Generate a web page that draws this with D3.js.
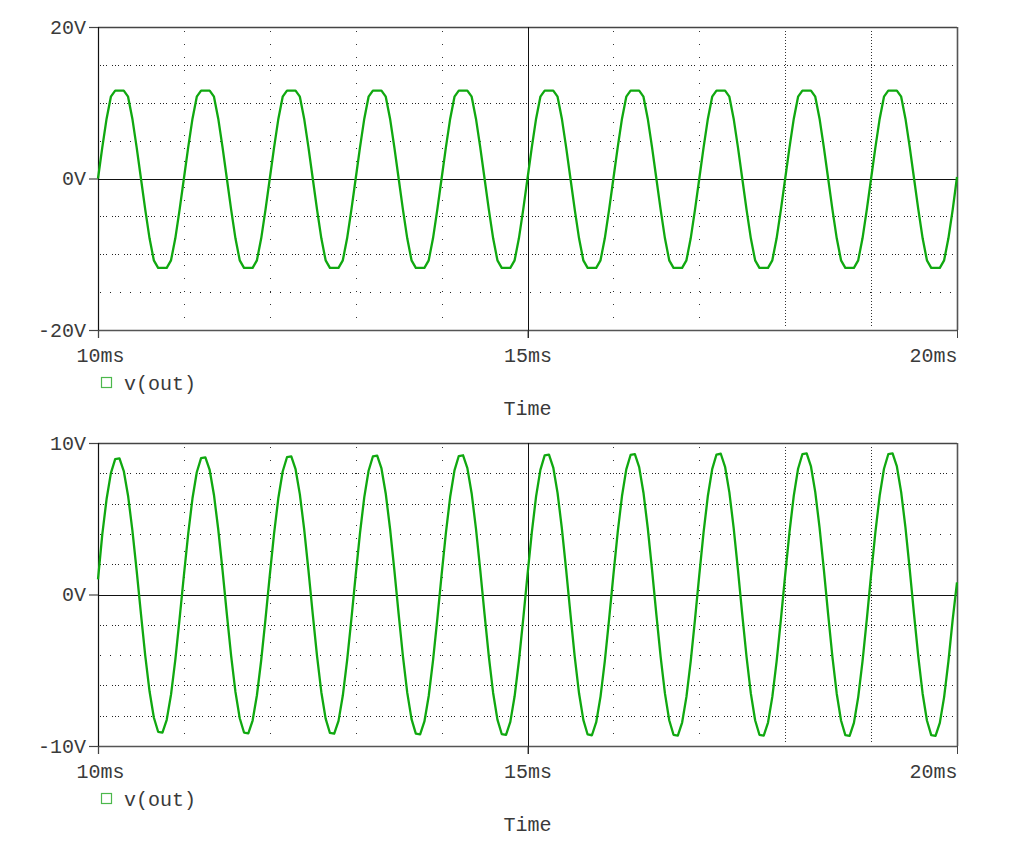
<!DOCTYPE html>
<html>
<head>
<meta charset="utf-8">
<script src="https://cdn.jsdelivr.net/npm/d3@7"></script>
<style>
  html, body { margin: 0; padding: 0; background: #fff; }
  svg { display: block; }
  text { font-family: "Liberation Mono", "Courier New", monospace; fill: #3a3a3a; }
</style>
</head>
<body>
<svg id="chart" width="1036" height="845"></svg>
<script>
// ---------------- DATA ----------------
const timeStart = 10;      // ms
const timeEnd = 20;        // ms
const timeStep = 0.05;     // ms between samples
const xTickValues = [10, 15, 20];
const xTickLabels = ["10ms", "15ms", "20ms"];
const xGridValues = [11, 12, 13, 14, 16, 17, 18, 19];
const seriesName = "v(out)";
const axisTitle = "Time";

// Panel 1 (clipped sine), volts
const topYTicks = [-20, 0, 20];
const topYTickLabels = ["-20V", "0V", "20V"];
const topYGrid = [15, 10, 5, -5, -10, -15];
const topValues = [
  0, 4.1, 7.9, 10.8, 11.6, 11.6, 11.6, 10.8, 7.9, 4.1, 0, -4.1, -7.9, -10.8, -11.8, -11.8, -11.8, -10.8, -7.9, -4.1,
  0, 4.1, 7.9, 10.8, 11.6, 11.6, 11.6, 10.8, 7.9, 4.1, 0, -4.1, -7.9, -10.8, -11.8, -11.8, -11.8, -10.8, -7.9, -4.1,
  0, 4.1, 7.9, 10.8, 11.6, 11.6, 11.6, 10.8, 7.9, 4.1, 0, -4.1, -7.9, -10.8, -11.8, -11.8, -11.8, -10.8, -7.9, -4.1,
  0, 4.1, 7.9, 10.8, 11.6, 11.6, 11.6, 10.8, 7.9, 4.1, 0, -4.1, -7.9, -10.8, -11.8, -11.8, -11.8, -10.8, -7.9, -4.1,
  0, 4.1, 7.9, 10.8, 11.6, 11.6, 11.6, 10.8, 7.9, 4.1, 0, -4.1, -7.9, -10.8, -11.8, -11.8, -11.8, -10.8, -7.9, -4.1,
  0, 4.1, 7.9, 10.8, 11.6, 11.6, 11.6, 10.8, 7.9, 4.1, 0, -4.1, -7.9, -10.8, -11.8, -11.8, -11.8, -10.8, -7.9, -4.1,
  0, 4.1, 7.9, 10.8, 11.6, 11.6, 11.6, 10.8, 7.9, 4.1, 0, -4.1, -7.9, -10.8, -11.8, -11.8, -11.8, -10.8, -7.9, -4.1,
  0, 4.1, 7.9, 10.8, 11.6, 11.6, 11.6, 10.8, 7.9, 4.1, 0, -4.1, -7.9, -10.8, -11.8, -11.8, -11.8, -10.8, -7.9, -4.1,
  0, 4.1, 7.9, 10.8, 11.6, 11.6, 11.6, 10.8, 7.9, 4.1, 0, -4.1, -7.9, -10.8, -11.8, -11.8, -11.8, -10.8, -7.9, -4.1,
  0, 4.1, 7.9, 10.8, 11.6, 11.6, 11.6, 10.8, 7.9, 4.1, 0, -4.1, -7.9, -10.8, -11.8, -11.8, -11.8, -10.8, -7.9, -4.1,
  0.2
];

// Panel 2 (sine), volts
const bottomYTicks = [-10, 0, 10];
const bottomYTickLabels = ["-10V", "0V", "10V"];
const bottomYGrid = [8, 6, 4, 2, -2, -4, -6, -8];
const bottomValues = [
  1.0, 3.97, 6.30, 8.01, 8.93, 8.98, 8.15, 6.52, 4.25, 1.58, -1.28, -4.03, -6.39, -8.12, -9.06, -9.11, -8.27, -6.61, -4.31, -1.60,
  1.27, 4.00, 6.35, 8.07, 9.00, 9.05, 8.22, 6.57, 4.29, 1.59, -1.29, -4.05, -6.43, -8.17, -9.11, -9.16, -8.32, -6.65, -4.34, -1.61,
  1.28, 4.03, 6.39, 8.12, 9.06, 9.11, 8.27, 6.61, 4.31, 1.60, -1.29, -4.06, -6.45, -8.19, -9.14, -9.19, -8.34, -6.67, -4.35, -1.61,
  1.29, 4.05, 6.43, 8.17, 9.11, 9.16, 8.32, 6.65, 4.34, 1.61, -1.30, -4.08, -6.48, -8.23, -9.18, -9.23, -8.38, -6.70, -4.37, -1.62,
  1.29, 4.06, 6.45, 8.19, 9.14, 9.19, 8.34, 6.67, 4.35, 1.61, -1.30, -4.10, -6.50, -8.26, -9.21, -9.26, -8.41, -6.72, -4.39, -1.63,
  1.30, 4.08, 6.48, 8.23, 9.18, 9.23, 8.38, 6.70, 4.37, 1.62, -1.30, -4.11, -6.52, -8.28, -9.24, -9.29, -8.43, -6.74, -4.40, -1.63,
  1.30, 4.10, 6.50, 8.26, 9.21, 9.26, 8.41, 6.72, 4.39, 1.63, -1.31, -4.12, -6.53, -8.30, -9.26, -9.31, -8.45, -6.76, -4.41, -1.64,
  1.30, 4.11, 6.52, 8.28, 9.24, 9.29, 8.43, 6.74, 4.40, 1.63, -1.31, -4.12, -6.53, -8.30, -9.26, -9.31, -8.45, -6.76, -4.41, -1.64,
  1.31, 4.12, 6.53, 8.30, 9.26, 9.31, 8.45, 6.76, 4.41, 1.64, -1.31, -4.13, -6.55, -8.32, -9.28, -9.33, -8.47, -6.77, -4.42, -1.64,
  1.31, 4.12, 6.53, 8.30, 9.26, 9.31, 8.45, 6.76, 4.41, 1.64, -1.31, -4.13, -6.55, -8.32, -9.28, -9.33, -8.47, -6.77, -4.42, -1.64,
  0.8
];

// ---------------- DRAW ----------------
const svg = d3.select("#chart");
const traceColor = "#10a810";
const left = 98, right = 957;

const x = d3.scaleLinear().domain([timeStart, timeEnd]).range([left, right]);

function drawPanel(cfg) {
  const { top, bottom, yDomain, yTicks, yTickLabels, yGrid, values } = cfg;
  const y = d3.scaleLinear().domain(yDomain).range([bottom, top]);
  const g = svg.append("g");

  // Horizontal dotted grid
  g.selectAll("line.hgrid").data(yGrid).join("line")
    .attr("x1", left + 2).attr("x2", right - 4)
    .attr("y1", d => Math.round(y(d)) + 0.5).attr("y2", d => Math.round(y(d)) + 0.5)
    .attr("stroke", "#222").attr("stroke-width", 1)
    .attr("stroke-dasharray", (d, i) => (i % 3 === 2 ? "1,9" : "1,2,1,2,1,5"));

  // Vertical dotted grid
  g.selectAll("line.vgrid").data(xGridValues).join("line")
    .attr("x1", d => Math.round(x(d)) + 0.5).attr("x2", d => Math.round(x(d)) + 0.5)
    .attr("y1", top + 4).attr("y2", bottom - 2)
    .attr("stroke", "#333").attr("stroke-width", 1)
    .attr("stroke-dasharray", d => (d >= 18 ? "1,2" : "1,12"));

  // Frame
  g.append("line").attr("x1", left).attr("x2", right).attr("y1", top + 0.5).attr("y2", top + 0.5)
    .attr("stroke", "#444").attr("stroke-width", 1.3);
  g.append("line").attr("x1", right + 0.5).attr("x2", right + 0.5).attr("y1", top).attr("y2", bottom)
    .attr("stroke", "#555").attr("stroke-width", 1.6);
  g.append("line").attr("x1", left).attr("x2", right + 1).attr("y1", bottom + 0.5).attr("y2", bottom + 0.5)
    .attr("stroke", "#555").attr("stroke-width", 1.6);
  // zero line
  g.append("line").attr("x1", left).attr("x2", right).attr("y1", Math.round(y(0)) + 0.5).attr("y2", Math.round(y(0)) + 0.5)
    .attr("stroke", "#111").attr("stroke-width", 1);
  // 15ms solid line
  g.append("line").attr("x1", Math.round(x(15)) + 0.5).attr("x2", Math.round(x(15)) + 0.5)
    .attr("y1", top).attr("y2", bottom + 8)
    .attr("stroke", "#111").attr("stroke-width", 1);
  // left axis line
  g.append("line").attr("x1", left + 0.5).attr("x2", left + 0.5).attr("y1", top).attr("y2", bottom + 8)
    .attr("stroke", "#111").attr("stroke-width", 1.2);

  // Y axis
  const yAxis = d3.axisLeft(y).tickValues(yTicks)
    .tickFormat((d, i) => yTickLabels[i]).tickSize(9).tickPadding(3);
  const ya = g.append("g").attr("transform", `translate(${left},0)`).call(yAxis);
  ya.select(".domain").remove();
  ya.selectAll(".tick line").attr("stroke", "#444").attr("stroke-width", 1.2);
  ya.selectAll(".tick text").attr("font-size", 20).attr("fill", "#3a3a3a")
    .attr("font-family", "'Liberation Mono', 'Courier New', monospace").attr("dy", "0.32em");

  // X axis
  const xAxis = d3.axisBottom(x).tickValues(xTickValues)
    .tickFormat((d, i) => xTickLabels[i]).tickSize(8).tickPadding(10);
  const xa = g.append("g").attr("transform", `translate(0,${bottom})`).call(xAxis);
  xa.select(".domain").remove();
  xa.selectAll(".tick line").attr("stroke", "#444").attr("stroke-width", 1);
  xa.selectAll(".tick text").attr("font-size", 20).attr("fill", "#3a3a3a")
    .attr("font-family", "'Liberation Mono', 'Courier New', monospace")
    .attr("text-anchor", (d, i) => (i === xTickValues.length - 1 ? "end" : "middle"))
    .attr("dx", (d, i) => (i === 0 ? 2 : 0))
    .attr("y", 25).attr("dy", "0.35em");

  // Trace
  const pts = values.map((v, i) => [timeStart + i * timeStep, v]);
  g.append("path").datum(pts)
    .attr("fill", "none").attr("stroke", traceColor).attr("stroke-width", 2.3)
    .attr("stroke-linejoin", "round")
    .attr("d", d3.line().x(d => x(d[0])).y(d => y(d[1])));

  // Legend
  g.append("rect").attr("x", 101.5).attr("y", bottom + 47.5).attr("width", 10).attr("height", 10)
    .attr("fill", "none").attr("stroke", "#4cb84c").attr("stroke-width", 1.2);
  g.append("text").attr("x", 124).attr("y", bottom + 53).attr("dy", "0.35em")
    .attr("font-size", 20).text(seriesName);

  // Axis title
  g.append("text").attr("x", x(15)).attr("y", bottom + 78).attr("dy", "0.35em")
    .attr("text-anchor", "middle").attr("font-size", 20).text(axisTitle);
}

drawPanel({ top: 27, bottom: 330, yDomain: [-20, 20], yTicks: topYTicks, yTickLabels: topYTickLabels, yGrid: topYGrid, values: topValues });
drawPanel({ top: 443, bottom: 746, yDomain: [-10, 10], yTicks: bottomYTicks, yTickLabels: bottomYTickLabels, yGrid: bottomYGrid, values: bottomValues });
</script>
</body>
</html>
